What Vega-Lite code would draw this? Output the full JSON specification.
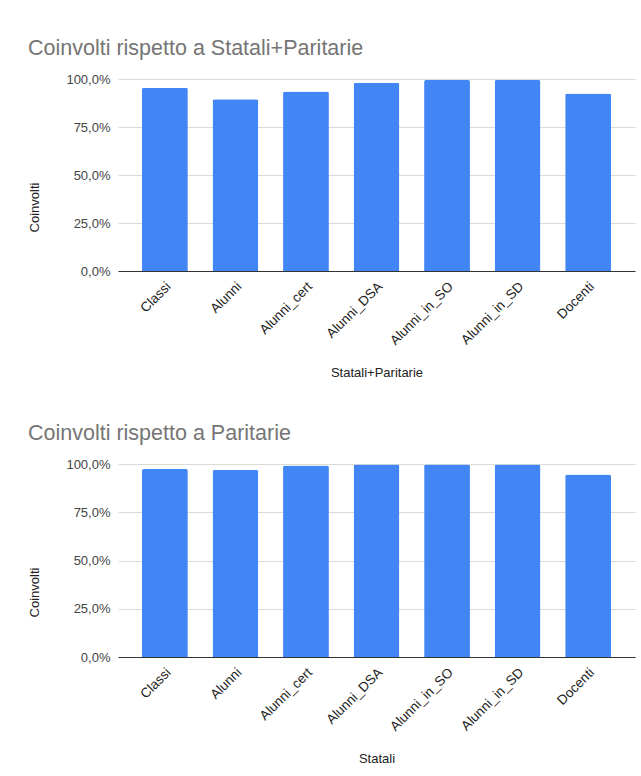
{
  "$schema": "https://vega.github.io/schema/vega-lite/v6.json",
  "autosize": {"type": "pad"},
  "padding": {"left": 28, "top": 37, "right": 6, "bottom": 10},
  "background": "white",
  "bounds": "flush",
  "spacing": 193,
  "config": {
    "locale": {"number": {"decimal": ",", "thousands": ".", "grouping": [3], "currency": ["", " €"]}},
    "font": "Liberation Sans",
    "view": {"stroke": null},
    "title": {"anchor": "start", "frame": "group", "font": "Liberation Sans", "fontSize": 21.5, "fontWeight": "normal", "color": "#757575", "dx": -90, "offset": 14},
    "axisY": {"labelFont": "Liberation Sans", "labelFontSize": 13, "labelColor": "#444444", "ticks": false, "domain": false, "gridColor": "#dadada", "labelPadding": 8, "titleFont": "Liberation Sans", "titleFontSize": 13, "titleFontWeight": "normal", "titleColor": "#222222", "titleX": -77, "titleY": 128},
    "axisX": {"labelFont": "Liberation Sans", "labelFontSize": 13.5, "labelColor": "#222222", "ticks": false, "domain": true, "domainColor": "#333333", "labelAngle": -45, "labelAlign": "right", "labelBaseline": "middle", "labelPadding": 13, "labelOffset": 4, "titleFont": "Liberation Sans", "titleFontSize": 13, "titleFontWeight": "normal", "titleColor": "#222222", "titleY": 101, "titleBaseline": "middle", "grid": false}
  },
  "datasets": {
    "sp": [
      {"categoria": "Classi", "coinvolti": 0.955},
      {"categoria": "Alunni", "coinvolti": 0.895},
      {"categoria": "Alunni_cert", "coinvolti": 0.935},
      {"categoria": "Alunni_DSA", "coinvolti": 0.981},
      {"categoria": "Alunni_in_SO", "coinvolti": 0.995},
      {"categoria": "Alunni_in_SD", "coinvolti": 0.995},
      {"categoria": "Docenti", "coinvolti": 0.924}
    ],
    "p": [
      {"categoria": "Classi", "coinvolti": 0.974},
      {"categoria": "Alunni", "coinvolti": 0.969},
      {"categoria": "Alunni_cert", "coinvolti": 0.992},
      {"categoria": "Alunni_DSA", "coinvolti": 0.997},
      {"categoria": "Alunni_in_SO", "coinvolti": 0.997},
      {"categoria": "Alunni_in_SD", "coinvolti": 0.997},
      {"categoria": "Docenti", "coinvolti": 0.946}
    ]
  },
  "vconcat": [
    {
      "title": "Coinvolti rispetto a Statali+Paritarie",
      "width": 517,
      "height": 192,
      "data": {"name": "sp"},
      "mark": {"type": "bar", "color": "#4285F4", "cornerRadiusEnd": 2},
      "encoding": {
        "x": {"field": "categoria", "type": "nominal", "sort": null, "title": "Statali+Paritarie", "scale": {"paddingInner": 0.35, "paddingOuter": 0.34}},
        "y": {"field": "coinvolti", "type": "quantitative", "title": "Coinvolti", "scale": {"domain": [0, 1], "nice": false}, "axis": {"format": ".1%", "values": [0, 0.25, 0.5, 0.75, 1]}}
      }
    },
    {
      "title": "Coinvolti rispetto a Paritarie",
      "width": 517,
      "height": 193,
      "data": {"name": "p"},
      "mark": {"type": "bar", "color": "#4285F4", "cornerRadiusEnd": 2},
      "encoding": {
        "x": {"field": "categoria", "type": "nominal", "sort": null, "title": "Statali", "scale": {"paddingInner": 0.35, "paddingOuter": 0.34}},
        "y": {"field": "coinvolti", "type": "quantitative", "title": "Coinvolti", "scale": {"domain": [0, 1], "nice": false}, "axis": {"format": ".1%", "values": [0, 0.25, 0.5, 0.75, 1]}}
      }
    }
  ]
}
